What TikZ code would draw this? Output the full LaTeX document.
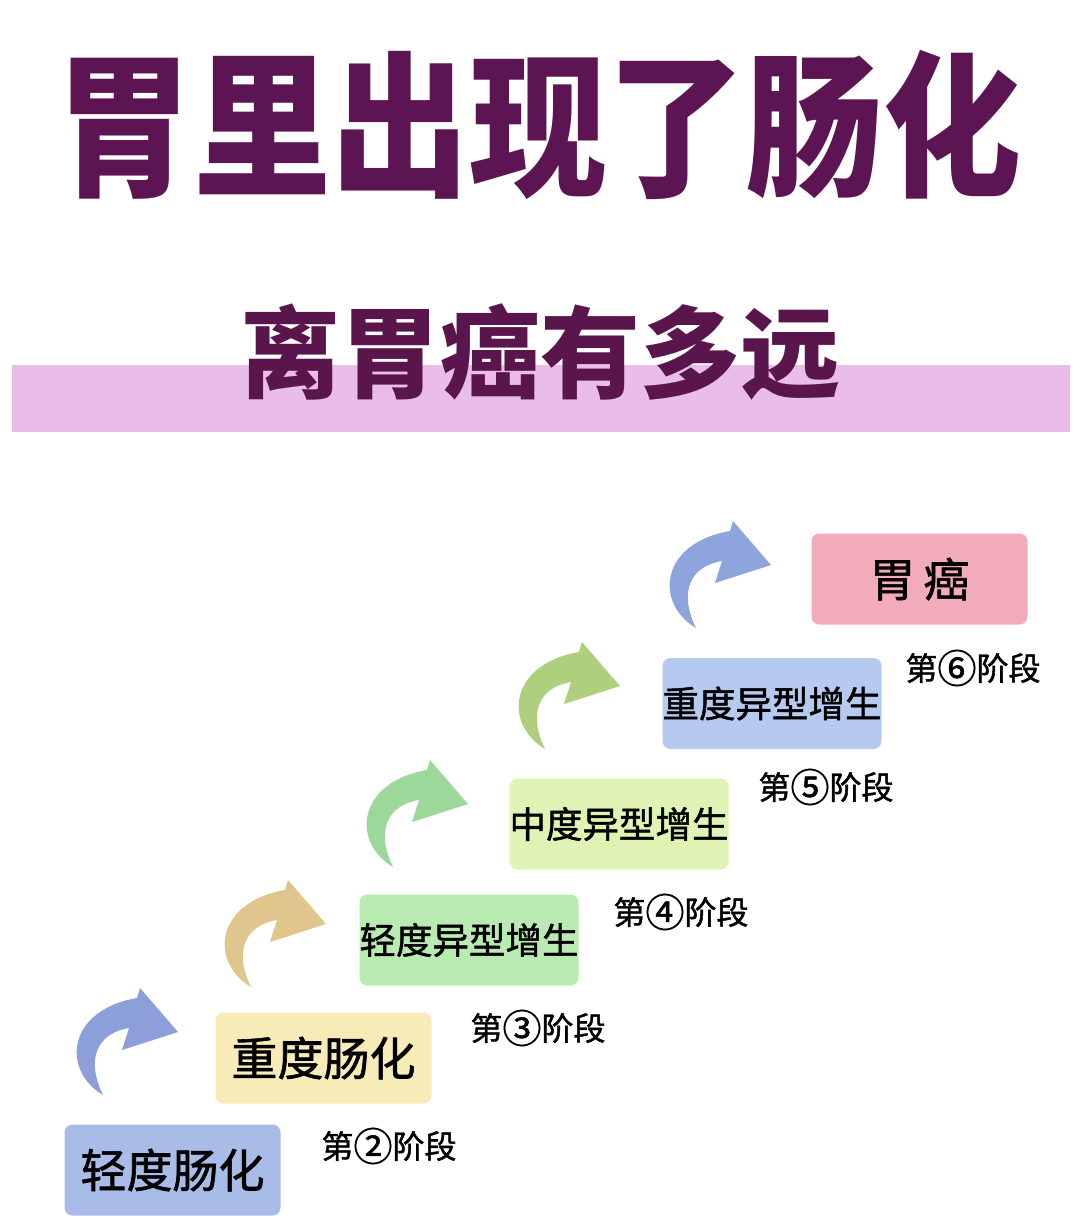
\documentclass[tikz,border=0pt]{standalone}
\usepackage{fontspec}
\newfontfamily\cjk{Noto Sans CJK SC}
\newfontfamily\cjkm{Noto Sans CJK SC}[FakeBold=1.3]
\usepackage{graphicx}
\definecolor{titlepurple}{HTML}{5C1452}
\definecolor{subpurple}{HTML}{5A164C}
\definecolor{bannerpink}{HTML}{EABCE8}
\definecolor{boxblue}{HTML}{A9BCE8}
\definecolor{boxyellow}{HTML}{F7ECB8}
\definecolor{boxgreen}{HTML}{B9EAB1}
\definecolor{boxlime}{HTML}{DEF3B4}
\definecolor{boxblueb}{HTML}{B6CAF0}
\definecolor{boxpink}{HTML}{F2ABB8}
\definecolor{arrblue}{HTML}{8C9FD8}
\definecolor{arrtan}{HTML}{E0C68C}
\definecolor{arrgreen}{HTML}{9BD899}
\definecolor{arrolive}{HTML}{AECF7E}
\definecolor{arrblueb}{HTML}{8EA4DC}
\newcommand{\stagearrow}[3]{%
  \fill[#3, shift={(#1,#2)}] (30,107) .. controls (-12,82) and (-6,22) .. (64,10)
    -- (67,0) -- (105,44) -- (49,62) -- (56,40)
    .. controls (25,45) and (12,70) .. (30,107) -- cycle;}
\newcommand{\cnum}[1]{\raisebox{-0.08em}{\scalebox{1.22}{#1}}}
\begin{document}
\begin{tikzpicture}[x=1pt,y=-1pt,
  titletext/.style={inner sep=0pt, text=titlepurple, font=\cjk\bfseries\fontsize{138}{140}\selectfont},
  subtext/.style={inner sep=0pt, text=subpurple, font=\cjk\bfseries\fontsize{100}{102}\selectfont},
  stagebox/.style={rounded corners=8pt, inner sep=0pt, minimum width=216pt, minimum height=91pt, text=black},
  bigtext/.style={font=\cjkm\fontsize{46}{48}\selectfont},
  midtext/.style={font=\cjkm\fontsize{36.5}{38}\selectfont},
  stagelabel/.style={inner sep=0pt, text=black, font=\cjkm\fontsize{32}{34}\selectfont}]
\useasboundingbox (0,0) rectangle (1076,1226);
\fill[white] (0,0) rectangle (1076,1226);
% title
\node[titletext] (title) at (538,125) {\scalebox{1}[1.13]{胃里出现了肠化}};
% banner
\node[fill=bannerpink, inner sep=0pt, minimum width=1058pt, minimum height=67pt] (banner) at (541,398.5) {};
\node[subtext] (sub) at (540,352) {离胃癌有多远};
% arrows
\stagearrow{73}{988}{arrblue}
\stagearrow{221}{880}{arrtan}
\stagearrow{363}{760}{arrgreen}
\stagearrow{515}{642}{arrolive}
\stagearrow{666}{521}{arrblueb}
% boxes
\node[stagebox, fill=boxblue, bigtext] (b1) at (172.5,1170) {轻度肠化};
\node[stagebox, fill=boxyellow, bigtext] (b2) at (323.5,1058) {重度肠化};
\node[stagebox, fill=boxgreen, midtext] (b3) at (469,940) {轻度异型增生};
\node[stagebox, fill=boxlime, midtext] (b4) at (619,824) {中度异型增生};
\node[stagebox, fill=boxblueb, midtext] (b5) at (772,703.5) {重度异型增生};
\node[stagebox, fill=boxpink, bigtext] (b6) at (919.5,579) {胃\hspace{8pt}癌};
% stage labels
\node[stagelabel] (s2) at (389,1146) {第\cnum{②}阶段};
\node[stagelabel] (s3) at (538,1028) {第\cnum{③}阶段};
\node[stagelabel] (s4) at (681,912) {第\cnum{④}阶段};
\node[stagelabel] (s5) at (826,787) {第\cnum{⑤}阶段};
\node[stagelabel] (s6) at (973,668) {第\cnum{⑥}阶段};
\end{tikzpicture}
\end{document}
